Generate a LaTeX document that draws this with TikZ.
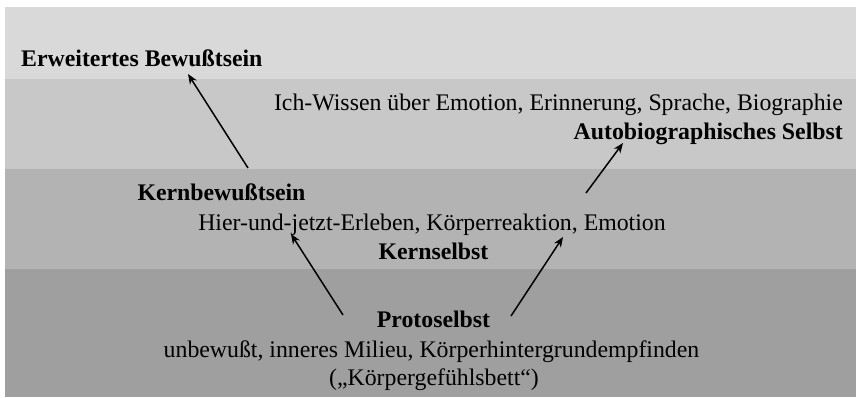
\documentclass[tikz,border=0pt]{standalone}
\usepackage{fontspec}
\setmainfont{Liberation Serif}
\usetikzlibrary{arrows.meta}
\definecolor{layerA}{HTML}{D9D9D9}
\definecolor{layerB}{HTML}{C8C8C8}
\definecolor{layerC}{HTML}{B3B3B3}
\definecolor{layerD}{HTML}{9F9F9F}
\newcommand{\lblfont}{\fontsize{23.8}{28}\selectfont}
\begin{document}
\begin{tikzpicture}[x=1pt,y=-1pt]
  \useasboundingbox (0,0) rectangle (856,397);
  \fill[layerA] (5,7) rectangle (856,79);
  \fill[layerB] (5,79) rectangle (856,169);
  \fill[layerC] (5,169) rectangle (856,269);
  \fill[layerD] (5,269) rectangle (856,397);
  \begin{scope}
    \tikzstyle{every node}=[inner sep=0pt,font=\lblfont]
    \tikzstyle{head}=[font=\lblfont\bfseries]
    \node[head,anchor=base west] (eb) at (21,66) {Erweitertes Bewußtsein};
    \node[anchor=base east] (iw) at (843,110) {Ich-Wissen über Emotion, Erinnerung, Sprache, Biographie};
    \node[head,anchor=base east] (ab) at (843,139) {Autobiographisches Selbst};
    \node[head,anchor=base] (kb) at (221.5,200) {Kernbewußtsein};
    \node[anchor=base] (hj) at (432,230) {Hier-und-jetzt-Erleben, Körperreaktion, Emotion};
    \node[head,anchor=base] (ks) at (433.5,259) {Kernselbst};
    \node[head,anchor=base] (ps) at (433.5,327) {Protoselbst};
    \node[anchor=base] (ub) at (431.5,357) {unbewußt, inneres Milieu, Körperhintergrundempfinden};
    \node[anchor=base] (kg) at (434,385) {(„Körpergefühlsbett“)};
  \end{scope}
  \tikzstyle{up}=[->,>={Stealth[length=10pt,width=8pt,inset=3pt]},line width=1.5pt]
  \draw[up] ([xshift=26.5pt,yshift=32pt]kb.base) -- ([xshift=167pt,yshift=-8pt]eb.base west);
  \draw[up] ([xshift=154pt,yshift=37pt]hj.base) -- ([xshift=-220pt,yshift=-4pt]ab.base east);
  \draw[up] ([xshift=-90.5pt,yshift=12pt]ps.base) -- ([xshift=-141pt,yshift=-4pt]hj.base);
  \draw[up] ([xshift=77.5pt,yshift=11pt]ps.base) -- ([xshift=131pt,yshift=-7pt]hj.base);
\end{tikzpicture}
\end{document}
